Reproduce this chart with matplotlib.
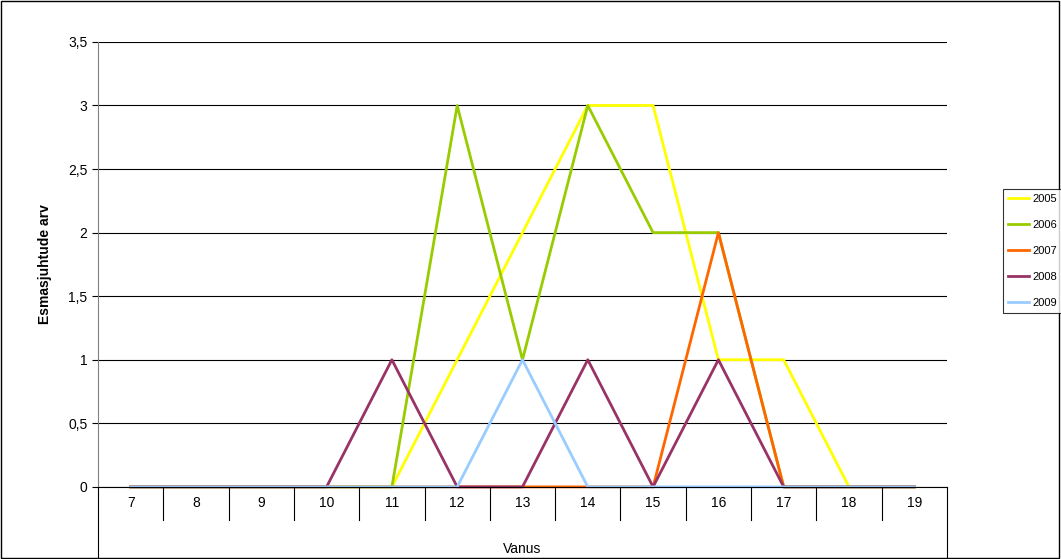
import matplotlib
matplotlib.use("Agg")
import matplotlib.pyplot as plt
from matplotlib.transforms import blended_transform_factory

ages = [7, 8, 9, 10, 11, 12, 13, 14, 15, 16, 17, 18, 19]
s2005 = [0, 0, 0, 0, 0, 1, 2, 3, 3, 1, 1, 0, 0]
s2006 = [0, 0, 0, 0, 0, 3, 1, 3, 2, 2, 0, 0, 0]
s2007 = [0, 0, 0, 0, 0, 0, 0, 0, 0, 2, 0, 0, 0]
s2008 = [0, 0, 0, 0, 1, 0, 0, 1, 0, 1, 0, 0, 0]
s2009 = [0, 0, 0, 0, 0, 0, 1, 0, 0, 0, 0, 0, 0]
series = [("2005", s2005, "#FFFF00"), ("2006", s2006, "#99CC00"),
          ("2007", s2007, "#FF6600"), ("2008", s2008, "#993366"),
          ("2009", s2009, "#99CCFF")]

plt.rcParams['font.family'] = ['Liberation Sans', 'DejaVu Sans']
fig = plt.figure(figsize=(10.61, 5.59), dpi=100)
fig.patch.set_facecolor("white")
fig.add_artist(plt.Rectangle((0.0005, 0.001), 0.998, 0.997, transform=fig.transFigure,
                             fill=False, edgecolor="black", linewidth=1))
ax = fig.add_axes([0.0924, 0.129, 0.8001, 0.796])
for name, vals, col in series:
    ax.plot(ages, vals, color=col, linewidth=2, label=name, clip_on=False)

ax.set_xlim(6.5, 19.5)
ax.set_ylim(0, 3.5)
ax.set_yticks([0, 0.5, 1, 1.5, 2, 2.5, 3, 3.5])
ax.set_yticklabels(["0", "0,5", "1", "1,5", "2", "2,5", "3", "3,5"], fontsize=10)
ax.yaxis.grid(True, color="black", linewidth=0.8)
ax.set_axisbelow(True)
ax.tick_params(axis="y", length=4, direction="out")
ax.set_xticks([])
for side in ["top", "right"]:
    ax.spines[side].set_visible(False)
ax.spines["left"].set_color("#808080")
ax.spines["bottom"].set_color("black")

# category table under the axis
tr = blended_transform_factory(ax.transData, ax.transAxes)
row_h = 33 / 445
for i, a in enumerate(ages):
    ax.text(a, -row_h / 2, str(a), transform=tr, ha="center", va="center", fontsize=10)
for b in range(1, len(ages)):
    x = ages[0] - 0.5 + b
    ax.plot([x, x], [0, -row_h], transform=tr, color="black", linewidth=0.8, clip_on=False)
for x in [ages[0] - 0.5, ages[-1] + 0.5]:
    ax.plot([x, x], [0, -72 / 445], transform=tr, color="black", linewidth=0.8, clip_on=False)

ax.text(13, -62 / 445, "Vanus", transform=tr, ha="center", va="center", fontsize=10)
ax.set_ylabel("Esmasjuhtude arv", fontsize=10, fontweight="bold", labelpad=12)

leg = fig.legend(loc="upper left", bbox_to_anchor=(0.945, 0.662), fontsize=8,
                 frameon=True, fancybox=False, edgecolor="black", handlelength=1.9,
                 borderpad=0.45, labelspacing=1.45, handletextpad=0.3, borderaxespad=0.0)
leg.get_frame().set_linewidth(0.8)

fig.savefig("out.png", dpi=100)
